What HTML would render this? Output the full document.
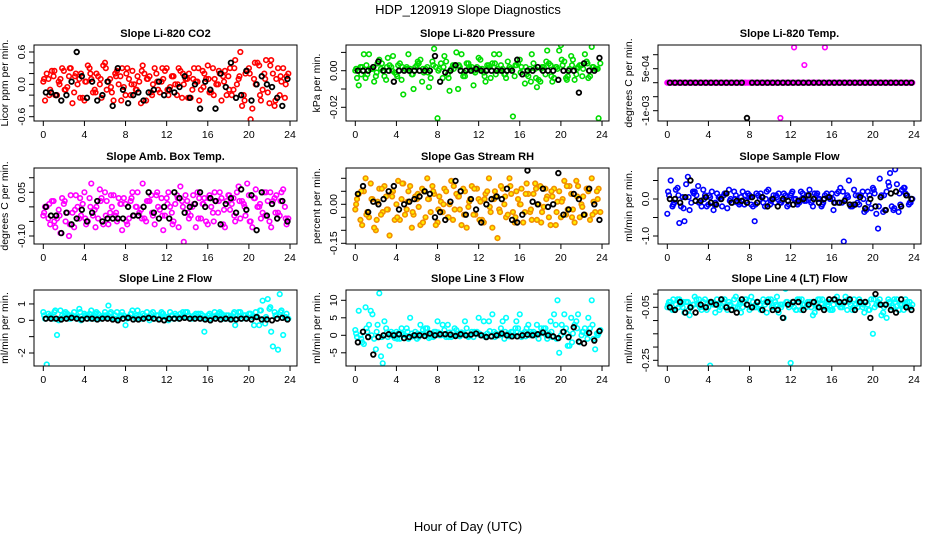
<!DOCTYPE html>
<html><head><meta charset="utf-8"><title>HDP_120919 Slope Diagnostics</title>
<style>
html,body{margin:0;padding:0;background:#fff;}
svg{display:block;font-family:"Liberation Sans",Arial,sans-serif;}
</style></head>
<body>
<svg id="chart" width="936" height="540" viewBox="0 0 936 540" xmlns="http://www.w3.org/2000/svg">
<rect width="936" height="540" fill="#fff"/>
<text x="468" y="14" text-anchor="middle" font-size="13">HDP_120919  Slope Diagnostics</text>
<text x="468" y="531" text-anchor="middle" font-size="13">Hour of Day (UTC)</text>
</svg>
<script>
// ---------- data ----------
const xTicks = [0,4,8,12,16,20,24];
const titles = ["Slope Li-820 CO2","Slope Li-820 Pressure","Slope Li-820 Temp.","Slope Amb. Box Temp.","Slope Gas Stream RH","Slope Sample Flow","Slope Line 2 Flow","Slope Line 3 Flow","Slope Line 4 (LT) Flow"];
const yTitles = ["Licor ppm per min.","kPa per min.","degrees C per min.","degrees C per min.","percent per min.","ml/min per min.","ml/min per min.","ml/min per min.","ml/min per min."];

const co2A = [0.05,0.2,-0.1,0.15,-0.2,0.1,0.25,-0.05,0.3,-0.15,0.0,0.2,-0.3,0.35,0.1,-0.1,0.15,-0.25,0.4,0.05,-0.15,0.2,0.0,0.3,-0.2,0.1,0.25,-0.1,0.05,0.35,-0.3,0.15,0.0,0.2,-0.15,0.1,0.3,-0.05,0.15,-0.2,0.25,0.0,0.1,-0.25,0.3,0.05,-0.1,0.2,0.35,-0.15,0.1,0.0,-0.3,0.25,0.15,-0.2,0.45,0.1,-0.4,0.2,0.3,-0.45,0.0,0.35,-0.1,0.45,-0.35,0.2,0.1,-0.2,0.3,0.15];
const co2B = [-0.3,0.1,0.25,-0.2,0.05,0.3,-0.1,0.15,-0.35,0.2,0.1,-0.25,0.05,0.3,-0.15,0.2,0.0,0.35,-0.1,0.1,-0.3,0.25,0.15,-0.05,0.3,-0.2,0.0,0.15,-0.35,0.2,0.1,-0.15,0.3,-0.1,0.05,0.25,-0.2,0.15,0.0,0.3,-0.25,0.1,0.2,-0.1,0.05,-0.3,0.25,0.1,-0.15,0.3,0.0,0.2,0.15,-0.2,0.3,-0.1,0.0,0.6,-0.2,0.25,-0.65,0.1,0.4,-0.3,0.2,-0.15,0.45,-0.4,0.3,0.05,-0.25,0.2];
const co2C = [0.1,-0.2,0.25,0.0,-0.1,0.3,0.15,-0.25,0.05,0.2,-0.15,0.1,0.3,-0.05,0.15,-0.3,0.2,0.0,-0.1,0.25,0.1,-0.2,0.05,0.3,-0.1,0.15,0.0,0.2,-0.25,0.1,0.3,-0.05,0.1,-0.2,0.25,0.05,-0.1,0.3,0.15,-0.3,0.2,0.4,-0.2,0.1,0.35,-0.3,0.15,0.0];
const co2K = [-0.15,-0.15,-0.2,-0.3,-0.2,0.05,0.6,0.15,-0.25,0.05,-0.3,-0.2,0.05,-0.4,0.3,-0.1,-0.35,-0.2,-0.15,-0.3,-0.15,-0.1,0.05,-0.2,-0.1,-0.15,-0.05,0.15,-0.25,0.0,-0.45,0.05,-0.1,-0.45,0.2,-0.05,0.4,-0.25,-0.2,0.25,-0.3,0.0,0.15,0.0,-0.05,-0.25,-0.4,0.1];

const presA = [0,-0.008,0.002,-0.004,0.009,0.001,-0.003,0.006,0,-0.005,0.003,0.008,-0.002,0.004,-0.013,0.002,0.001,-0.01,0.003,0.006,-0.001,0.002,-0.004,0.012,-0.026,0.004,0.008,-0.002,0.001,0.003,-0.01,0.009,-0.003,0.004,0.002,-0.001,0.007,0.001,-0.006,0.003,0.004,-0.002,0.009,0.001,-0.004,0.002,-0.025,0.003,0.006,0,-0.002,0.001,0.004,-0.009,-0.006,0.002,0.011,0.003,-0.004,0.001,0.014,0.005,-0.003,0.008,-0.005,0.002,0.003,0.009,-0.004,0.013,0.001,-0.026];
const presB = [-0.004,0.002,0.009,-0.002,0.001,-0.006,0.004,0.001,-0.003,0.007,0.002,-0.001,0.003,-0.005,0.001,0.009,-0.002,0.002,0.004,-0.006,0.001,-0.009,0.005,0.002,0.001,-0.004,0.005,-0.011,0.003,0.01,0.002,-0.003,0.004,0.001,-0.008,0.002,0.006,-0.001,0.003,-0.004,0.009,0.001,0.003,-0.002,0.005,0.001,-0.003,0.004,0.002,-0.007,-0.003,0.009,0.001,-0.005,0.002,-0.002,0.004,-0.006,0.002,0.011,0.003,-0.004,0.001,0.006,-0.002,0.003,0.001,0.005,-0.003,0.002,0.001,0.004];
const presC = [0.001,-0.002,0.003,0.001,-0.001,0.004,0.002,0,-0.003,0.002,0.001,-0.002,0.005,0.001,-0.001,0.003,0,0.002,-0.004,0.001,0.003,-0.001,0.002,0,0.001,-0.003,0.002,0.004,0,-0.002,0.001,0.003,-0.001,0.002,-0.006,-0.004,0.001,0.005,-0.003,0.002,0.006,-0.005,0.003,0.001,-0.003,0.004,0.002,0.001];
const presK = [0,0,0,0.002,0.005,0,0,-0.006,0,0,0,0,0,0,0,0.008,-0.006,-0.001,0,0.003,0,0,0,0.001,0,0,0,0,0,0,0,0.006,-0.002,0,0,0.002,0,0,0,-0.005,0,0,0,-0.012,0.004,0,0,0.007];

const tempA = [0,0,0,0,0,0,0,0,0,0,0,0,0,0,0,0,0,0,0,0,0,0,0,0,0,0,0,0,0,0,0,0,0,-0.00126,0,0,0,0.00126,0,0,0.00063,0,0,0,0,0,0.00126,0,0,0,0,0,0,0,0,0,0,0,0,0,0,0,0,0,0,0,0,0,0,0,0,0];
const tempB = [0,0,0,0,0,0,0,0,0,0,0,0,0,0,0,0,0,0,0,0,0,0,0,0,0,0,0,0,0,0,0,0,0,0,0,0,0,0,0,0,0,0,0,0,0,0,0,0,0,0,0,0,0,0,0,0,0,0,0,0,0,0,0,0,0,0,0,0,0,0,0,0];
const tempC = [0,0,0,0,0,0,0,0,0,0,0,0,0,0,0,0,0,0,0,0,0,0,0,0,0,0,0,0,0,0,0,0,0,0,0,0,0,0,0,0,0,0,0,0,0,0,0,0];
const tempK = [0,0,0,0,0,0,0,0,0,0,0,0,0,0,0,-0.00126,0,0,0,0,0,0,0,0,0,0,0,0,0,0,0,0,0,0,0,0,0,0,0,0,0,0,0,0,0,0,0,0];

const ambA = [-0.03,0.0,-0.06,0.02,-0.04,-0.09,0.01,-0.02,0.04,-0.07,0.0,-0.03,0.05,-0.05,0.08,-0.01,-0.04,0.03,0.05,-0.06,0.0,-0.03,0.03,-0.08,0.01,-0.04,0.05,0.0,-0.02,0.08,-0.05,0.02,-0.03,0.04,-0.01,-0.08,0.03,0.0,-0.05,0.04,0.07,-0.12,0.02,-0.03,0.01,0.05,-0.04,0.03,-0.06,0.0,0.05,-0.02,0.03,-0.07,0.04,0.01,-0.05,0.07,0.02,-0.03,0.04,-0.07,0.06,0.0,-0.02,0.05,-0.05,0.02,0.04,-0.03,0.06,-0.06];
const ambB = [0.0,-0.04,0.02,-0.07,-0.01,0.03,-0.05,-0.1,-0.02,0.04,-0.04,0.01,-0.06,0.03,-0.03,0.0,0.06,-0.06,0.02,-0.02,0.04,-0.05,0.01,0.03,-0.06,0.02,-0.03,0.05,-0.01,-0.04,0.02,0.04,-0.06,0.0,0.03,-0.03,0.05,-0.02,0.01,-0.07,0.02,0.04,-0.04,0.0,-0.07,0.03,0.01,-0.05,0.04,-0.02,0.02,0.05,-0.06,0.02,-0.01,0.03,0.05,-0.04,0.01,0.08,-0.05,0.03,0.0,-0.04,0.05,0.02,-0.07,0.03,-0.02,0.05,0.0,-0.04];
const ambC = [-0.02,0.01,-0.05,-0.03,0.02,-0.06,-0.01,0.03,-0.04,0.0,-0.07,0.02,-0.03,0.04,-0.02,0.01,-0.05,0.03,0.0,-0.04,0.02,-0.02,0.05,-0.03,0.01,-0.06,0.03,0.0,-0.02,0.04,-0.04,0.01,0.03,-0.05,0.02,-0.01,0.04,-0.03,0.02,0.0,-0.05,0.03,0.01,-0.03,0.05,-0.02,0.02,-0.04];
const ambK = [0.0,-0.03,-0.03,-0.09,-0.02,-0.06,-0.04,-0.01,-0.05,-0.02,0.02,-0.05,-0.04,-0.04,-0.04,-0.04,0.0,-0.03,-0.03,0.0,0.05,-0.02,-0.04,0.0,-0.04,0.05,0.03,-0.02,0.0,0.01,0.05,0.0,0.03,0.02,-0.06,0.01,0.03,-0.02,0.06,-0.01,0.04,-0.08,0.05,-0.03,0.01,-0.04,0.02,-0.05];

const rhA = [-0.02,0.04,-0.08,0.1,-0.05,0.02,-0.1,0.06,-0.03,0.03,-0.12,0.05,0.0,-0.06,0.08,-0.02,0.07,-0.04,0.02,-0.08,0.05,0.1,-0.03,0.04,-0.07,0.01,0.06,-0.05,0.09,-0.02,0.03,-0.08,0.05,-0.01,0.07,-0.04,0.02,-0.06,0.04,0.1,-0.09,0.03,-0.02,0.06,-0.05,0.1,-0.03,0.05,0.0,-0.07,0.08,-0.03,0.04,-0.06,0.07,-0.01,0.03,-0.08,0.06,0.01,-0.05,0.09,-0.02,0.04,-0.07,0.07,0.0,-0.04,0.05,0.1,-0.03,0.06];
const rhB = [0.02,-0.06,0.05,-0.03,0.08,-0.09,0.01,-0.04,0.07,-0.02,0.04,-0.06,0.09,0.02,-0.04,0.05,-0.09,0.03,-0.01,0.06,-0.05,0.02,0.07,-0.08,0.03,-0.03,0.05,0.0,-0.06,0.04,-0.02,0.06,-0.09,0.02,-0.04,0.06,0.01,-0.07,0.05,-0.03,0.02,-0.13,0.07,0.0,-0.04,0.04,-0.07,0.02,0.06,-0.03,0.04,-0.06,0.08,0.0,-0.03,0.06,-0.05,0.03,-0.08,0.05,0.02,-0.04,0.07,-0.02,0.09,-0.05,0.03,0.06,-0.06,0.01,0.05,-0.03];
const rhC = [0.0,0.05,-0.04,0.02,-0.06,0.06,-0.02,0.03,-0.05,0.08,0.01,-0.03,0.04,-0.07,0.02,0.05,-0.02,0.0,-0.05,0.07,0.03,-0.04,0.01,0.06,-0.06,0.02,-0.01,0.05,-0.03,0.03,0.07,-0.05,0.0,0.04,-0.02,0.06,-0.07,0.02,0.05,-0.03,0.01,0.07,-0.05,0.03,-0.01,0.06,-0.04,0.02];
const rhK = [0.04,0.07,-0.03,0.01,0.0,0.02,0.05,0.07,-0.02,0.0,0.01,0.02,0.03,0.05,0.04,-0.05,-0.03,-0.06,0.01,0.09,0.05,-0.04,0.02,-0.02,-0.07,0.0,0.02,0.03,0.02,0.06,-0.06,-0.07,-0.04,0.13,0.01,0.0,0.06,-0.01,0.0,0.12,-0.04,-0.02,0.04,0.02,-0.04,0.06,0.0,-0.06];

const sfA = [-0.4,0.5,-0.1,0.3,-0.2,-0.6,0.6,-0.1,0.2,0.35,-0.2,0.1,-0.15,0.2,-0.1,0.05,-0.2,0.15,0.25,-0.1,0.1,-0.15,0.2,-0.05,0.1,-0.2,0.15,0.0,-0.1,0.2,-0.15,0.1,0.05,-0.1,0.15,-0.2,0.1,0.0,-0.15,0.2,-0.05,0.1,-0.1,0.15,0.0,-0.2,0.1,0.05,0.15,-0.1,0.2,-0.1,0.0,0.5,-0.2,0.1,-0.15,0.2,-0.3,0.1,0.3,-0.4,0.55,-0.35,0.2,0.7,-0.3,0.4,-0.15,0.3,0.1,-0.1];
const sfB = [0.1,-0.2,0.25,-0.65,0.05,0.4,-0.3,0.2,0.1,-0.1,0.25,-0.2,0.05,-0.3,0.15,0.0,0.1,-0.25,0.0,0.2,-0.1,0.05,-0.15,0.15,-0.15,-0.6,0.1,0.05,-0.2,0.25,0.0,-0.1,0.15,-0.05,0.1,-0.15,0.2,0.0,-0.1,0.15,-0.05,0.25,-0.2,0.1,0.0,-0.1,0.15,0.0,-0.3,0.15,0.3,-1.15,0.1,-0.2,0.25,-0.1,0.1,-0.35,0.2,-0.25,0.15,-0.8,0.1,-0.3,0.45,-0.2,0.8,-0.35,0.25,0.15,-0.15,0.0];
const sfC = [0.2,-0.15,0.1,-0.25,0.05,0.15,-0.1,0.0,0.1,-0.15,0.05,0.15,-0.05,0.0,-0.1,0.1,0.05,-0.15,0.15,0.0,-0.05,0.1,-0.1,0.05,0.15,-0.1,0.0,0.1,-0.05,0.15,-0.15,0.05,0.0,-0.1,0.2,0.05,-0.15,0.1,0.0,-0.1,0.25,-0.2,0.1,0.35,-0.25,0.15,0.3,-0.1];
const sfK = [0.0,0.0,-0.1,0.05,0.5,-0.05,-0.05,0.05,-0.1,-0.15,0.0,0.15,-0.1,-0.05,-0.05,-0.1,0.05,-0.1,0.05,-0.2,0.0,-0.2,0.0,-0.05,-0.15,-0.05,0.0,0.1,0.0,-0.1,0.0,0.05,-0.1,-0.1,-0.05,-0.15,-0.15,0.05,-0.25,0.0,-0.2,0.05,-0.3,0.15,0.2,-0.2,0.1,0.0];

const l2A = [0.5,-2.7,0.3,0.1,-0.9,0.6,0.2,0.4,0.1,0.5,0.2,0.0,0.4,0.3,0.6,0.1,0.4,0.2,0.5,0.9,0.2,0.3,0.1,0.5,-0.3,0.2,0.6,0.1,0.3,0.4,0.2,0.0,0.5,0.3,0.1,0.4,0.2,0.5,0.1,0.3,0.4,0.2,0.5,0.1,0.3,0.2,0.4,-0.7,0.3,0.1,0.5,0.2,0.4,0.1,0.3,0.2,-0.3,0.5,0.1,0.3,0.4,0.2,0.5,-0.3,1.2,0.2,0.7,-1.6,0.3,1.6,-0.9,0.4];
const l2B = [0.1,0.4,0.2,0.6,0.0,0.3,0.5,0.1,0.3,0.2,0.7,0.1,0.3,0.4,0.2,0.5,0.1,0.3,0.2,0.4,0.1,0.5,0.2,0.3,0.1,0.4,0.2,0.6,0.1,0.3,0.2,0.4,0.1,0.3,0.5,0.2,0.0,0.3,0.4,0.1,0.2,0.5,0.3,0.1,0.4,0.2,0.3,0.1,0.4,0.2,0.3,0.5,0.1,0.3,0.2,0.4,0.1,0.5,0.3,0.2,0.4,-0.3,0.2,0.6,0.1,1.3,-0.7,0.5,-1.8,0.6,0.2,0.1];
const l2C = [0.3,0.2,0.5,0.1,0.4,0.3,0.2,0.5,0.3,0.1,0.4,0.2,0.3,0.5,0.1,0.3,0.2,0.4,0.3,0.1,0.5,0.2,0.3,0.4,0.1,0.3,0.2,0.5,0.3,0.2,0.4,0.1,0.3,0.2,0.4,0.3,0.1,0.5,0.2,0.3,0.4,0.2,0.6,-0.2,0.8,0.3,0.5,0.2];
const l2K = [0.1,0.1,0.1,0.05,0.1,0.15,0.1,0.05,0.1,0.1,0.05,0.1,0.1,0.05,0.0,0.1,0.15,0.05,0.05,0.1,0.15,0.1,0.05,0.0,0.1,0.1,0.1,0.15,0.1,0.1,0.1,0.05,0.0,0.1,0.05,0.1,0.05,0.05,0.1,0.1,0.05,0.2,0.05,0.05,0.0,0.1,0.15,0.05];

const l3A = [1.5,7,-2,8,3,6,-4,12,-8,2,-3,0.5,1,-1,0.3,2,5,0,-1,3,0.5,2,-0.5,1,4,0,1.5,3,-0.5,2,0,0.8,4,-0.5,1,0.5,5,0,-0.5,4,6,0.5,0,4,5,-0.3,1,4,6,0.5,2,0,1,3,0.5,2,-1,4,6,10,0,6,-3,5,3,6,0,2,5,10,-4,0.5];
const l3B = [-0.5,0,-2.5,1,7,-1,3,-6,4,-0.5,1,-0.8,0.5,2,0,-1,0.5,1,-0.5,0.3,2,-0.8,0.5,1,0,3,-0.5,0.8,0,1.5,-0.3,0.5,2,0,-0.5,1,0,4,0.5,-0.3,1,0,2,-1,0.5,1,0,2,-0.5,1,3,0.5,0,-1,1,2,0.5,-0.5,3,-5,1,2,-3,0.5,4,-2,1,0.5,2,-1,0.5,1.5];
const l3C = [0.5,-1,2,0,1,-0.5,0.8,0,-1,0.5,1,-0.3,0.5,1.5,0,-0.5,0.8,0.3,-0.5,1,0,0.5,-0.3,1,0.5,0,1.2,-0.5,0.3,1,0,2,0.5,-0.3,1,0.5,2,0,1,-1,3,0.5,-2,2,1,-1,3,0];
const l3K = [-2,1,-0.5,-5.5,-0.5,0,0.3,0,0.3,-0.8,-0.5,0,0,-0.2,0.5,0,0.3,0.3,0.2,-0.2,0.3,0,0.2,0.5,0,-0.5,-0.3,0,0.5,0,-0.3,-0.3,0,0.2,0,0.3,0.8,0,-0.3,-0.8,1,-0.5,2.3,-1.8,-2.3,0.7,-1.5,1.2];

const l4A = [-0.05,-0.03,-0.06,-0.02,-0.04,-0.07,-0.03,-0.05,-0.01,-0.04,-0.06,-0.02,-0.05,-0.03,-0.07,-0.04,-0.02,-0.05,-0.03,-0.06,-0.01,-0.04,-0.05,-0.02,-0.06,-0.03,-0.05,-0.04,-0.02,-0.07,-0.03,-0.05,-0.01,-0.04,-0.09,-0.03,-0.26,-0.05,-0.02,-0.06,-0.04,-0.03,-0.05,-0.07,-0.02,-0.04,-0.05,-0.03,-0.06,-0.02,-0.04,-0.05,-0.01,-0.03,-0.06,-0.04,-0.02,-0.05,-0.03,-0.06,-0.15,-0.04,-0.02,-0.07,-0.09,-0.03,-0.05,-0.02,-0.04,-0.06,-0.03,-0.05];
const l4B = [-0.03,-0.06,-0.04,-0.02,-0.05,-0.03,-0.08,-0.04,-0.02,-0.05,-0.03,-0.06,-0.27,-0.04,-0.02,-0.05,-0.03,-0.06,-0.04,-0.02,-0.05,-0.07,-0.03,-0.04,-0.01,-0.05,-0.03,-0.06,-0.04,-0.02,-0.05,-0.03,-0.07,-0.04,0.02,-0.05,-0.03,-0.06,-0.02,-0.04,-0.05,-0.03,-0.08,-0.04,-0.02,-0.05,-0.03,-0.06,-0.04,-0.01,-0.05,-0.03,-0.06,-0.04,-0.02,-0.05,-0.03,-0.07,-0.04,-0.02,-0.05,-0.03,-0.08,-0.04,-0.02,-0.05,-0.03,-0.06,-0.04,-0.02,-0.05,-0.04];
const l4C = [-0.04,-0.02,-0.05,-0.03,-0.06,-0.04,-0.02,-0.05,-0.03,-0.04,-0.06,-0.02,-0.04,-0.05,-0.03,-0.02,-0.05,-0.04,-0.06,-0.03,-0.02,-0.04,-0.05,-0.03,-0.04,-0.06,-0.02,-0.04,-0.03,-0.05,-0.02,-0.04,-0.06,-0.03,-0.04,-0.02,-0.05,-0.03,-0.04,-0.06,-0.02,-0.04,-0.05,-0.03,-0.02,-0.06,-0.04,-0.03];
const l4K = [-0.05,-0.06,-0.03,-0.07,-0.05,-0.07,-0.04,-0.05,-0.03,-0.04,-0.02,-0.05,-0.06,-0.07,-0.02,-0.04,-0.05,-0.03,-0.06,-0.03,-0.06,-0.06,-0.09,-0.04,-0.03,-0.03,-0.06,-0.04,-0.03,-0.05,-0.06,-0.02,-0.02,-0.03,-0.03,-0.02,-0.06,-0.03,-0.03,-0.09,0.0,-0.04,-0.04,-0.06,-0.07,-0.02,-0.05,-0.06];

const seriesA = [co2A,presA,tempA,ambA,rhA,sfA,l2A,l3A,l4A];
const seriesB = [co2B,presB,tempB,ambB,rhB,sfB,l2B,l3B,l4B];
const seriesC = [co2C,presC,tempC,ambC,rhC,sfC,l2C,l3C,l4C];
const seriesK = [co2K,presK,tempK,ambK,rhK,sfK,l2K,l3K,l4K];

const yTicks = [[0.6,0.4,0.2,0,-0.2,-0.4,-0.6],[0.01,0,-0.01,-0.02],[0.001,0.0005,0,-0.0005,-0.001],[0.1,0.05,0,-0.05,-0.1],[0.1,0.05,0,-0.05,-0.1,-0.15],[0.5,0,-0.5,-1],[1,0,-1,-2],[10,5,0,-5],[0,-0.05,-0.1,-0.15,-0.2,-0.25]];
const yLabelVals = [[0.6,0,-0.6],[0,-0.02],[0.0005,-0.001],[0.05,-0.1],[0,-0.15],[0,-1],[1,0,-2],[10,5,0,-5],[-0.05,-0.25]];
const yLabelText = [["0.6","0.0","-0.6"],["0.00","-0.02"],["5e-04","-1e-03"],["0.05","-0.10"],["0.00","-0.15"],["0.0","-1.0"],["1","0","-2"],["10","5","0","-5"],["-0.05","-0.25"]];

// ---------- layout (not data) ----------
const colLeft = [34,346,658], colW = 263;
const rowTop = [45,168,290], rowH = 76;
const yRef = [[0.6,52,-0.6,116.7],[0,70.7,-0.02,107.3],[0,82.7,0.001,54.7],[0.05,192.3,-0.10,236],[0,204.3,-0.15,243.3],[0,199,-1,236],[0,320.3,-2,353],[0,335.3,10,300.3],[-0.05,307.3,-0.25,360.3]];
const colors = [["#ff0000","none"],["#00dd00","none"],["#ff00ff","none"],["#ff00ff","none"],["#f29000","#ffee00"],["#0000ff","none"],["#00ffff","none"],["#00ffff","none"],["#00ffff","none"]];

const NS = "http://www.w3.org/2000/svg";
const svg = document.getElementById("chart");
function mk(tag, attrs, parent){const e=document.createElementNS(NS,tag);for(const k in attrs)e.setAttribute(k,attrs[k]);(parent||svg).appendChild(e);return e;}

for (let p=0;p<9;p++){
  const c=p%3, r=Math.floor(p/3);
  const x0=colLeft[c], y0=rowTop[r], x1=x0+colW, y1=y0+rowH;
  const xs = h => x0+9.3+h*10.28;
  const R=yRef[p];
  const ys = v => R[1]+(v-R[0])*(R[3]-R[1])/(R[2]-R[0]);
  const g = mk("g",{});
  
  

  const t = mk("text",{x:(x0+x1)/2,y:y0-8,"text-anchor":"middle","font-size":"11","font-weight":"bold"},g);
  t.textContent = titles[p];
  
  

  const yt = mk("text",{transform:`translate(${x0-26},${(y0+y1)/2}) rotate(-90)`,"text-anchor":"middle","font-size":"10.5"},g);
  yt.textContent = yTitles[p];
  
  

  const clip = mk("clipPath",{id:"clip"+p},g);
  mk("rect",{x:x0,y:y0,width:colW,height:rowH},clip);
  const pts = mk("g",{"clip-path":`url(#clip${p})`},g);
  
  

  const [stroke,fill]=colors[p];
  const A=seriesA[p], B=seriesB[p], C=seriesC[p], K=seriesK[p];
  A.forEach((v,i)=>{
    const e=mk("circle",{cx:xs(i*24/A.length),cy:ys(v),r:2.3,fill:fill,stroke:stroke,"stroke-width":1.6},pts);
    
    
  });
  B.forEach((v,i)=>{
    const e=mk("circle",{cx:xs(i*24/B.length+12/B.length),cy:ys(v),r:2.3,fill:fill,stroke:stroke,"stroke-width":1.6},pts);
    
    
  });
  C.forEach((v,i)=>{
    const e=mk("circle",{cx:xs(i*24/C.length+0.08),cy:ys(v),r:2.3,fill:fill,stroke:stroke,"stroke-width":1.6},pts);
    
    
  });
  K.forEach((v,i)=>{
    const e=mk("circle",{cx:xs(i*24/K.length+0.25),cy:ys(v),r:2.3,fill:"none",stroke:"#000","stroke-width":1.8},pts);
    
    
  });

  const box = mk("rect",{x:x0,y:y0,width:colW,height:rowH,fill:"none",stroke:"#000","stroke-width":1},g);
  
  

  xTicks.forEach(h=>{
    const ln=mk("line",{x1:xs(h),x2:xs(h),y1:y1,y2:y1+5,stroke:"#000"},g);
    
    
    const tl=mk("text",{x:xs(h),y:y1+17,"text-anchor":"middle","font-size":"10.5"},g);
    tl.textContent=h;
    
    
  });
  yTicks[p].forEach(v=>{
    const ln=mk("line",{x1:x0-5,x2:x0,y1:ys(v),y2:ys(v),stroke:"#000"},g);
    
    
  });
  yLabelVals[p].forEach((v,i)=>{
    const tl=mk("text",{transform:`translate(${x0-9},${ys(v)}) rotate(-90)`,"text-anchor":"middle","font-size":"10.5"},g);
    tl.textContent=yLabelText[p][i];
    
    
  });
}
</script>
</body></html>
